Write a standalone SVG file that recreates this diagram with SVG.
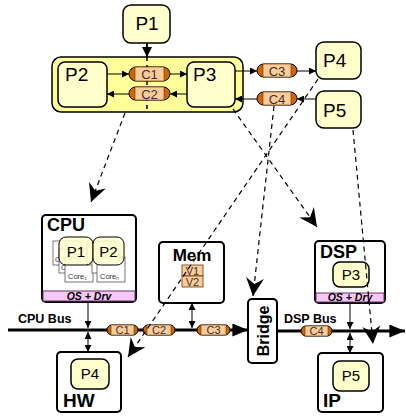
<svg xmlns="http://www.w3.org/2000/svg" width="406" height="418" viewBox="0 0 406 418">
<defs>
<style>
.p{fill:#FFFFCC;stroke:#000;stroke-width:1.5}
.box{fill:#fff;stroke:#000;stroke-width:2}
.pt{font-family:"Liberation Sans",Arial,sans-serif;font-size:19px;fill:#000}
.pts{font-family:"Liberation Sans",Arial,sans-serif;font-size:15px;fill:#000}
.bt{font-family:"Liberation Sans",Arial,sans-serif;font-weight:bold;fill:#000}
.capo{fill:#CC6600;stroke:#000;stroke-width:1}
.capi{fill:#FFCC99;stroke:#663300;stroke-width:0.6}
.ct{font-family:"Liberation Sans",Arial,sans-serif;font-size:13px;fill:#333;text-anchor:middle}
.cts{font-family:"Liberation Sans",Arial,sans-serif;font-size:11px;fill:#333;text-anchor:middle}
.sl{stroke:#000;stroke-width:1;fill:none}
.dl{stroke:#000;stroke-width:1.2;fill:none;stroke-dasharray:5,4}
.bus{stroke:#000;stroke-width:3;fill:none}
.os{fill:#F5C8F5;stroke:#663366;stroke-width:1}
.ost{font-family:"Liberation Sans",Arial,sans-serif;font-size:10.5px;font-style:italic;font-weight:bold;text-anchor:middle}
.core{fill:#fff;stroke:#555;stroke-width:0.8}
.coret{font-family:"Liberation Sans",Arial,sans-serif;font-size:7.5px;fill:#333}
</style>
<marker id="a" viewBox="0 0 10 10" refX="10" refY="5" markerWidth="7" markerHeight="7" markerUnits="userSpaceOnUse" orient="auto-start-reverse"><path d="M0,0 L10,5 L0,10 z" fill="#000"/></marker>
<marker id="a2" viewBox="0 0 10 10" refX="10" refY="5" markerWidth="10" markerHeight="10" markerUnits="userSpaceOnUse" orient="auto-start-reverse"><path d="M0,0 L10,5 L0,10 z" fill="#000"/></marker>
<marker id="s" viewBox="0 0 12 12" refX="12" refY="6" markerWidth="18" markerHeight="18" markerUnits="userSpaceOnUse" orient="auto"><path d="M0,0 L12,6 L0,12 L4,6 z" fill="#000"/></marker>
<marker id="b" viewBox="0 0 12 10" refX="12" refY="5" markerWidth="16" markerHeight="13" markerUnits="userSpaceOnUse" orient="auto"><path d="M0,0 L12,5 L0,10 z" fill="#000"/></marker>
</defs>

<g id="container">
<rect x="52" y="57" width="191" height="55" rx="9" fill="#FFFF99" stroke="#000" stroke-width="1.5"/>
<line x1="147" y1="57" x2="147" y2="112" stroke="#000" stroke-width="1.5" stroke-dasharray="4,4"/>
</g>

<g id="P1"><rect class="p" x="123" y="5" width="47" height="38" rx="8"/><text class="pt" x="147" y="30" text-anchor="middle">P1</text></g>
<g id="P2"><rect class="p" x="58" y="62" width="49" height="45" rx="7"/><text class="pt" x="65" y="81">P2</text></g>
<g id="P3"><rect class="p" x="187" y="62" width="48" height="45" rx="7"/><text class="pt" x="193" y="81">P3</text></g>
<g id="P4"><rect class="p" x="316" y="42" width="45" height="37" rx="8"/><text class="pt" x="323" y="67">P4</text></g>
<g id="P5"><rect class="p" x="316" y="91" width="45" height="37" rx="8"/><text class="pt" x="323" y="117">P5</text></g>

<g id="C1"><rect class="capo" x="129" y="67" width="41" height="14" rx="7"/><rect class="capi" x="135" y="67" width="29" height="14"/><text class="ct" x="149.5" y="79">C1</text></g>
<g id="C2"><rect class="capo" x="129" y="87" width="41" height="13" rx="6.5"/><rect class="capi" x="135" y="87" width="29" height="13"/><text class="ct" x="149.5" y="98.5">C2</text></g>
<g id="C3"><rect class="capo" x="257" y="64" width="40" height="13" rx="6.5"/><rect class="capi" x="263" y="64" width="28" height="13"/><text class="ct" x="277" y="75.5">C3</text></g>
<g id="C4"><rect class="capo" x="257" y="92" width="40" height="13" rx="6.5"/><rect class="capi" x="263" y="92" width="28" height="13"/><text class="ct" x="277" y="103.5">C4</text></g>

<g id="CPU">
<rect class="box" x="42" y="215" width="94" height="87" rx="4"/>
<text class="bt" x="47" y="231" font-size="18">CPU</text>
<rect class="core" x="53" y="241" width="28" height="24"/>
<text class="coret" x="55" y="262">C</text>
<rect class="core" x="59" y="249" width="28" height="24"/>
<text class="coret" x="61" y="270">C</text>
<rect class="core" x="65" y="257" width="28" height="25"/>
<text class="coret" x="68" y="279">Core₁</text>
<rect class="core" x="87" y="241" width="28" height="24"/>
<rect class="core" x="92" y="249" width="28" height="24"/>
<rect class="core" x="97" y="257" width="28" height="25"/>
<text class="coret" x="100" y="279">Coreₙ</text>
<rect x="59" y="237" width="34" height="28" rx="7" fill="#FFFFCC" fill-opacity="0.85" stroke="#000" stroke-width="1"/>
<text class="pts" x="76" y="257" text-anchor="middle" font-size="17">P1</text>
<rect x="93" y="237" width="31" height="28" rx="7" fill="#FFFFCC" fill-opacity="0.85" stroke="#000" stroke-width="1"/>
<text class="pts" x="108.5" y="257" text-anchor="middle" font-size="17">P2</text>
<rect class="os" x="43" y="291" width="92" height="10"/>
<text class="ost" x="89" y="300">OS + Drv</text>
</g>

<g id="Mem">
<rect class="box" x="159" y="242" width="65" height="61" rx="4"/>
<text class="bt" x="192" y="261" font-size="17" text-anchor="middle">Mem</text>
<rect x="182" y="265" width="21" height="11" fill="#FFCC99" stroke="#663300" stroke-width="0.8"/>
<rect x="182" y="276" width="21" height="11" fill="#FFCC99" stroke="#663300" stroke-width="0.8"/>
<text class="cts" x="192.5" y="274.5">V1</text>
<text class="cts" x="192.5" y="285.5">V2</text>
</g>

<g id="DSP">
<rect class="box" x="315" y="241" width="70" height="62" rx="4"/>
<text class="bt" x="320" y="258" font-size="18">DSP</text>
<rect class="p" x="333" y="262" width="36" height="25" rx="7" stroke-width="1"/>
<text class="pts" x="351" y="280" text-anchor="middle">P3</text>
<rect class="os" x="316" y="293" width="68" height="9"/>
<text class="ost" x="350" y="301">OS + Dry</text>
</g>

<g id="HW">
<rect class="box" x="57" y="352" width="64" height="60" rx="4"/>
<rect class="p" x="71" y="359" width="38" height="30" rx="7" stroke-width="1"/>
<text class="pts" x="90" y="379" text-anchor="middle">P4</text>
<text class="bt" x="63" y="407" font-size="19">HW</text>
</g>

<g id="IP">
<rect class="box" x="318" y="353" width="65" height="59" rx="4"/>
<rect class="p" x="333" y="361" width="36" height="30" rx="7" stroke-width="1"/>
<text class="pts" x="351" y="381" text-anchor="middle">P5</text>
<text class="bt" x="323" y="407" font-size="19">IP</text>
</g>

<g id="Bridge">
<rect class="box" x="248" y="299" width="29" height="64" rx="4"/>
<text class="bt" font-size="16" text-anchor="middle" transform="translate(268.5,331) rotate(-90)">Bridge</text>
</g>

<g id="buses">
<line class="bus" x1="8" y1="330" x2="248" y2="330" marker-end="url(#b)"/>
<line class="bus" x1="277" y1="331" x2="405" y2="331" marker-end="url(#b)"/>
<text class="bt" x="18" y="323" font-size="12.5">CPU Bus</text>
<text class="bt" x="284" y="323" font-size="12.5">DSP Bus</text>
</g>

<g id="busC1"><rect class="capo" x="107" y="325" width="31" height="10" rx="5"/><rect class="capi" x="111" y="325" width="23" height="10"/><text class="cts" x="122.5" y="334">C1</text></g>
<g id="busC2"><rect class="capo" x="143" y="325" width="32" height="10" rx="5"/><rect class="capi" x="147" y="325" width="24" height="10"/><text class="cts" x="159" y="334">C2</text></g>
<g id="busC3"><rect class="capo" x="197" y="325" width="33" height="10" rx="5"/><rect class="capi" x="201" y="325" width="25" height="10"/><text class="cts" x="213.5" y="334">C3</text></g>
<g id="busC4"><rect class="capo" x="301" y="326" width="31" height="10" rx="5"/><rect class="capi" x="305" y="326" width="23" height="10"/><text class="cts" x="316.5" y="335">C4</text></g>

<g id="connectors">
<line x1="147" y1="43" x2="147" y2="57" stroke="#000" stroke-width="2" marker-end="url(#a2)"/>
<line class="sl" x1="107" y1="74" x2="129" y2="74" marker-end="url(#a)"/>
<line class="sl" x1="170" y1="74" x2="187" y2="74" marker-end="url(#a)"/>
<line class="sl" x1="187" y1="94" x2="170" y2="94" marker-end="url(#a)"/>
<line class="sl" x1="129" y1="94" x2="107" y2="94" marker-end="url(#a)"/>
<line class="sl" x1="235" y1="71" x2="257" y2="71" marker-end="url(#a)"/>
<line class="sl" x1="297" y1="71" x2="316" y2="71" marker-end="url(#a)"/>
<line class="sl" x1="316" y1="99" x2="297" y2="99" marker-end="url(#a)"/>
<line class="sl" x1="257" y1="99" x2="235" y2="99" marker-end="url(#a)"/>

<line class="sl" x1="88" y1="302" x2="88" y2="328" marker-end="url(#a)"/>
<line class="sl" x1="88" y1="332" x2="88" y2="352" marker-start="url(#a)" marker-end="url(#a)"/>
<line class="sl" x1="192" y1="303" x2="192" y2="328" marker-start="url(#a)" marker-end="url(#a)"/>
<line class="sl" x1="350" y1="303" x2="350" y2="329" marker-end="url(#a)"/>
<line class="sl" x1="350" y1="333" x2="350" y2="353" marker-start="url(#a)" marker-end="url(#a)"/>

<line class="dl" x1="125" y1="113" x2="91" y2="202" marker-end="url(#s)"/>
<line class="dl" x1="233" y1="109" x2="317" y2="227" marker-end="url(#s)"/>
<line class="dl" x1="318" y1="79" x2="128" y2="357" marker-end="url(#s)"/>
<line class="dl" x1="274" y1="106" x2="253" y2="296" marker-end="url(#s)"/>
<line class="dl" x1="353" y1="130" x2="373" y2="344" marker-end="url(#s)"/>
</g>
</svg>
